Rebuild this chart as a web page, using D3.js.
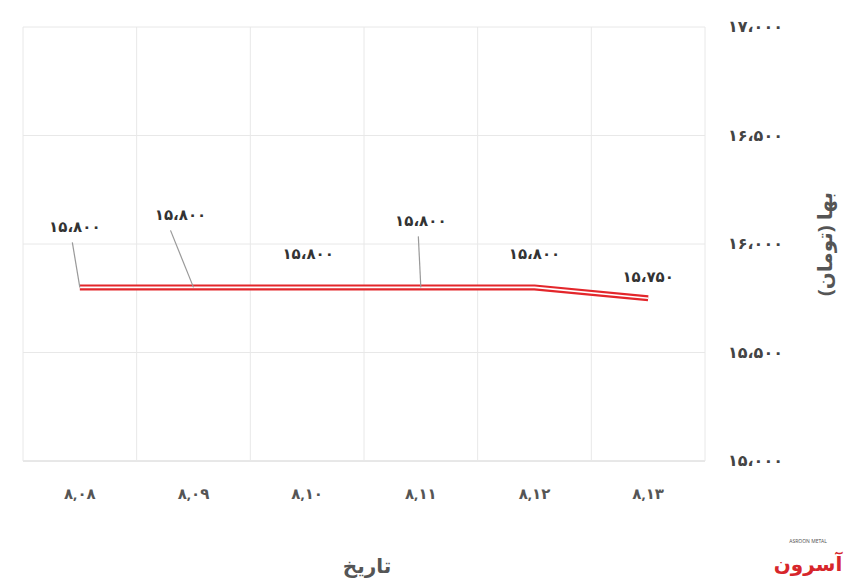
<!DOCTYPE html>
<html><head><meta charset="utf-8">
<script src="https://cdn.jsdelivr.net/npm/d3@7/dist/d3.min.js"></script>
<style>body{margin:0;background:#fff}</style></head>
<body><svg id="c" width="860" height="587"></svg>
<script>
const categories = ["۸,۰۸","۸,۰۹","۸,۱۰","۸,۱۱","۸,۱۲","۸,۱۳"];
const values = [15800,15800,15800,15800,15800,15750];
const valueLabels = ["۱۵،۸۰۰","۱۵،۸۰۰","۱۵،۸۰۰","۱۵،۸۰۰","۱۵،۸۰۰","۱۵،۷۵۰"];
const yTicks = [15000,15500,16000,16500,17000];
const yTickLabels = ["۱۵،۰۰۰","۱۵،۵۰۰","۱۶،۰۰۰","۱۶،۵۰۰","۱۷،۰۰۰"];
const labelOffsets = [[-5,-55],[-13,-67],[1,-28],[0,-61],[0,-28],[0,-16]];
const leader = [true,true,false,true,false,false];

const svg = d3.select("#c");
const L=23,R=705,T=27,B=461;
const x = d3.scaleBand().domain(categories).range([L,R]);
const y = d3.scaleLinear().domain([15000,17000]).range([B,T]);
const font = "'Noto Sans','DejaVu Sans',sans-serif";

svg.append("g").selectAll("line").data(yTicks).join("line")
 .attr("x1",L).attr("x2",R).attr("y1",d=>y(d)).attr("y2",d=>y(d))
 .attr("stroke",d=>d===15000?"#d0d0d0":"#e8e8e8");
svg.append("g").selectAll("line").data(d3.range(categories.length+1)).join("line")
 .attr("x1",i=>L+i*x.step()).attr("x2",i=>L+i*x.step()).attr("y1",T).attr("y2",B)
 .attr("stroke","#e8e8e8");

svg.append("g").selectAll("text").data(yTicks).join("text")
 .attr("x",728).attr("y",d=>y(d)+5).text((d,i)=>yTickLabels[i])
 .attr("font-family",font).attr("font-size",16).attr("font-weight","bold").attr("fill","#444");
svg.append("g").selectAll("text").data(categories).join("text")
 .attr("x",d=>x(d)+x.bandwidth()/2).attr("y",499).attr("text-anchor","middle").text(d=>d)
 .attr("font-family",font).attr("font-size",15).attr("font-weight","bold").attr("fill","#555");

svg.append("text").attr("x",367).attr("y",573).attr("text-anchor","middle").text("تاریخ")
 .attr("font-family",font).attr("font-size",20).attr("font-weight","bold").attr("fill","#555");
svg.append("text").attr("transform","translate(832,244) rotate(-90)").attr("text-anchor","middle")
 .text("بها (تومان)").attr("font-family",font).attr("font-size",20).attr("font-weight","bold").attr("fill","#555");

const pts = categories.map((c,i)=>[x(c)+x.bandwidth()/2, y(values[i])]);
const line = d3.line();
svg.append("path").attr("d",line(pts)).attr("fill","none").attr("stroke","#e3262b").attr("stroke-width",6);
svg.append("path").attr("d",line(pts)).attr("fill","none").attr("stroke","#fff").attr("stroke-width",1.6);

pts.forEach((p,i)=>{
  const [dx,dy]=labelOffsets[i];
  if(leader[i]) svg.append("line").attr("x1",p[0]+dx-5*(i===1?2:0.5)).attr("y1",p[1]+dy+10)
     .attr("x2",p[0]).attr("y2",p[1]).attr("stroke","#999").attr("stroke-width",1.2);
  svg.append("text").attr("x",p[0]+dx).attr("y",p[1]+dy).attr("text-anchor","middle").text(valueLabels[i])
   .attr("font-family",font).attr("font-size",15).attr("font-weight","bold").attr("fill","#333");
});

svg.append("text").attr("x",808).attr("y",571).attr("text-anchor","middle").text("آسرون")
 .attr("font-family",font).attr("font-size",20).attr("font-weight","bold").attr("fill","#d7262b");
svg.append("text").attr("x",808).attr("y",543).attr("text-anchor","middle").text("ASROON METAL")
 .attr("font-family",font).attr("font-size",5).attr("fill","#555");
</script></body></html>
